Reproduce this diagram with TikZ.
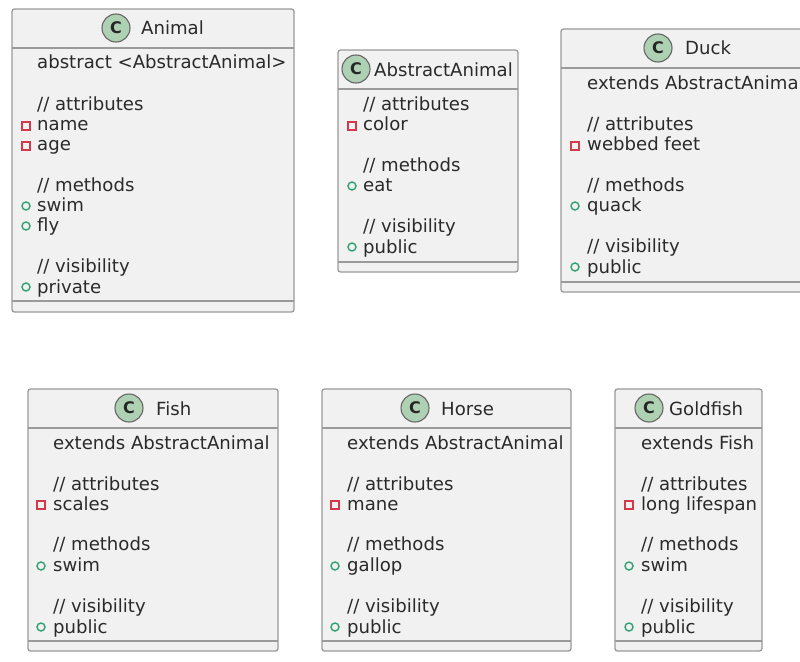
\documentclass[tikz,border=0pt]{standalone}
\usepackage{fontspec}
\setmainfont{DejaVu Sans}
\definecolor{boxfill}{HTML}{F1F1F1}
\definecolor{boxline}{HTML}{9A9A9A}
\definecolor{circfill}{HTML}{ADD1B2}
\definecolor{privred}{HTML}{D03A4A}
\definecolor{publine}{HTML}{2FA070}
\definecolor{txt}{HTML}{2A2A2A}
\tikzset{x=1pt,y=-1pt,
 classbox/.style={draw=boxline,fill=boxfill,rounded corners=2.5pt,line width=1.3pt},
 sep/.style={draw=boxline,line width=1.3pt},
 lab/.style={anchor=base west,inner sep=0,text=txt,font=\fontsize{18.1}{18.1}\selectfont},
 titlelab/.style={lab},
 badge/.style={circle,draw=black!60!white,fill=circfill,line width=1.1pt,minimum size=28pt,inner sep=0pt,font=\fontsize{16}{16}\selectfont\bfseries,text=black!85!white},
 privmark/.style={draw=privred,line width=1.4pt,fill=none},
 pubmark/.style={circle,draw=publine,fill=none,line width=1.4pt,minimum size=8pt,inner sep=0pt}}
\newcommand{\umlbox}[8]{% name x1 y1 x2 y2 headbottom footer-top badgex
 \draw[classbox] (#2,#3) rectangle (#4,#5);
 \draw[sep] (#2,#6) -- (#4,#6);
 \draw[sep] (#2,#7) -- (#4,#7);
 \node[badge] (#1badge) at (#8,#3+19) {C};
}
\newcommand{\priv}[2]{\draw[privmark] (#1-4,#2-4) rectangle (#1+4,#2+4);}
\newcommand{\pub}[2]{\node[pubmark] at (#1,#2) {};}
\begin{document}
\begin{tikzpicture}
\useasboundingbox (0,0) rectangle (800,661);
\fill[white] (0,0) rectangle (800,661);
% Animal
\umlbox{animal}{12}{9}{294}{312}{48}{301}{116}
\node[titlelab] (animaltitle) at (141,35) {Animal};
\node[lab] (a1) at (37,69) {abstract <AbstractAnimal>};
\node[lab] (a2) at (37,110) {// attributes};
\priv{26}{126}\node[lab] (a3) at (37,130) {name};
\priv{26}{146}\node[lab] (a4) at (37,150) {age};
\node[lab] (a5) at (37,191) {// methods};
\pub{26}{206}\node[lab] (a6) at (37,211) {swim};
\pub{26}{226}\node[lab] (a7) at (37,231) {fly};
\node[lab] (a8) at (37,272) {// visibility};
\pub{26}{287}\node[lab] (a9) at (37,293) {private};
% AbstractAnimal
\umlbox{abs}{338}{50}{518}{272}{89}{262}{356}
\node[titlelab] (abstitle) at (374,76) {AbstractAnimal};
\node[lab] (b1) at (363,110) {// attributes};
\priv{352}{126}\node[lab] (b2) at (363,130) {color};
\node[lab] (b3) at (363,171) {// methods};
\pub{352}{186}\node[lab] (b4) at (363,191) {eat};
\node[lab] (b5) at (363,232) {// visibility};
\pub{352}{247}\node[lab] (b6) at (363,253) {public};
% Duck
\umlbox{duck}{561}{29}{810}{292}{68}{282}{658}
\node[titlelab] (ducktitle) at (685,55) {Duck};
\node[lab] (c1) at (587,89) {extends AbstractAnimal};
\node[lab] (c2) at (587,130) {// attributes};
\priv{575}{146}\node[lab] (c3) at (587,150) {webbed feet};
\node[lab] (c4) at (587,191) {// methods};
\pub{575}{206}\node[lab] (c5) at (587,211) {quack};
\node[lab] (c6) at (587,252) {// visibility};
\pub{575}{267}\node[lab] (c7) at (587,273) {public};
% Fish
\umlbox{fish}{28}{389}{278}{651}{428}{641}{129}
\node[titlelab] (fishtitle) at (156,415) {Fish};
\node[lab] (d1) at (53,449) {extends AbstractAnimal};
\node[lab] (d2) at (53,490) {// attributes};
\priv{41}{505}\node[lab] (d3) at (53,510) {scales};
\node[lab] (d4) at (53,550) {// methods};
\pub{41}{566}\node[lab] (d5) at (53,571) {swim};
\node[lab] (d6) at (53,612) {// visibility};
\pub{41}{627}\node[lab] (d7) at (53,633) {public};
% Horse
\umlbox{horse}{322}{389}{571}{651}{428}{641}{415}
\node[titlelab] (horsetitle) at (441,415) {Horse};
\node[lab] (e1) at (347,449) {extends AbstractAnimal};
\node[lab] (e2) at (347,490) {// attributes};
\priv{335}{505}\node[lab] (e3) at (347,510) {mane};
\node[lab] (e4) at (347,550) {// methods};
\pub{335}{566}\node[lab] (e5) at (347,571) {gallop};
\node[lab] (e6) at (347,612) {// visibility};
\pub{335}{627}\node[lab] (e7) at (347,633) {public};
% Goldfish
\umlbox{gold}{615}{389}{762}{651}{428}{641}{649}
\node[titlelab] (goldtitle) at (669,415) {Goldfish};
\node[lab] (f1) at (641,449) {extends Fish};
\node[lab] (f2) at (641,490) {// attributes};
\priv{629}{505}\node[lab] (f3) at (641,510) {long lifespan};
\node[lab] (f4) at (641,550) {// methods};
\pub{629}{566}\node[lab] (f5) at (641,571) {swim};
\node[lab] (f6) at (641,612) {// visibility};
\pub{629}{627}\node[lab] (f7) at (641,633) {public};
\end{tikzpicture}
\end{document}
